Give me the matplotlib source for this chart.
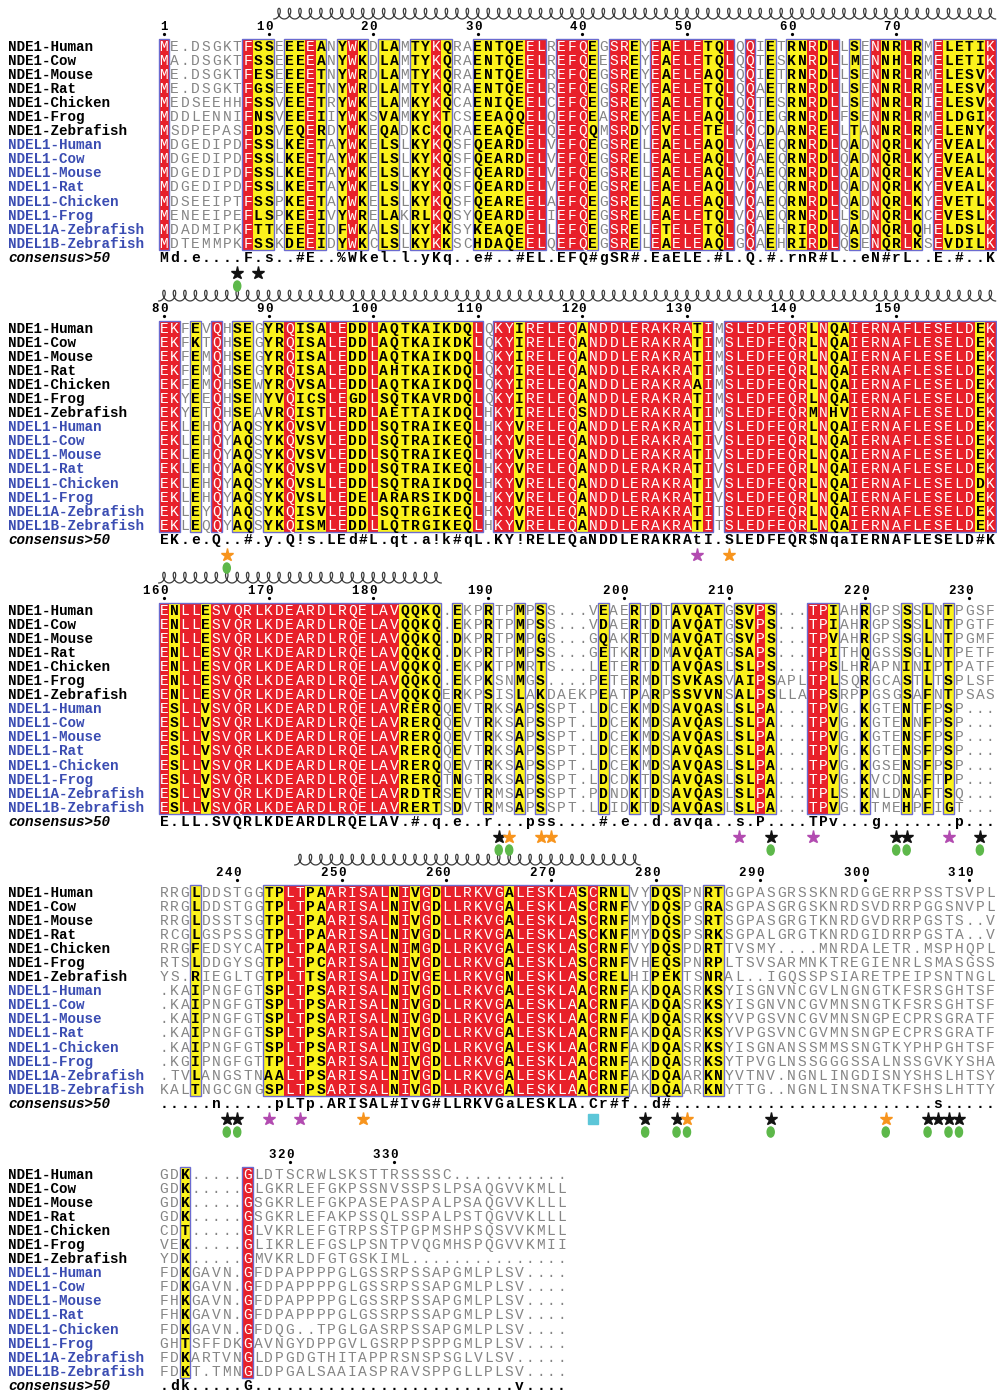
import numpy as np
import matplotlib.pyplot as plt
from matplotlib.patches import Rectangle, Ellipse

# sequence names (NDE1 orthologs first, then NDEL1)
names = ["NDE1-Human", "NDE1-Cow", "NDE1-Mouse", "NDE1-Rat", "NDE1-Chicken",
         "NDE1-Frog", "NDE1-Zebrafish", "NDEL1-Human", "NDEL1-Cow",
         "NDEL1-Mouse", "NDEL1-Rat", "NDEL1-Chicken", "NDEL1-Frog",
         "NDEL1A-Zebrafish", "NDEL1B-Zebrafish"]

# aligned sequences, one string per line of the alignment block (80 columns per block)
seqs = [
    ("ME.DSGKTFSSEEEEANYWKDLAMTYKQRAENTQEELREFQEGSREYEAELETQLQQIETRNRDLLSENNRLRMELETIK"
     "EKFEVQHSEGYRQISALEDDLAQTKAIKDQLQKYIRELEQANDDLERAKRATIMSLEDFEQRLNQAIERNAFLESELDEK"
     "ENLLESVQRLKDEARDLRQELAVQQKQ.EKPRTPMPSS...VEAERTDTAVQATGSVPS...TPIAHRGPSSSLNTPGSF"
     "RRGLDDSTGGTPLTPAARISALNIVGDLLRKVGALESKLASCRNLVYDQSPNRTGGPASGRSSKNRDGGERRPSSTSVPL"
     "GDK.....GLDTSCRWLSKSTTRSSSSC..........."),
    ("MA.DSGKTFSSEEEEANYWKDLAMTYKQRAENTQEELREFQEESREYEAELETQLQQTESKNRDLLMENNHLRMELETIK"
     "EKFKTQHSEGYRQISALEDDLAQTKAIKDKLQKYIRELEQANDDLERAKRATIMSLEDFEQRLNQAIERNAFLESELDEK"
     "ENLLESVQRLKDEARDLRQELAVQQKQ.EKPRTPMPSS...VDAERTDTAVQATGSVPS...TPIAHRGPSSSLNTPGTF"
     "RRGLDDSTGGTPLTPAARISALNIVGDLLRKVGALESKLASCRNFVYDQSPGRASGPASGRGSKNRDSVDRRPGGSNVPL"
     "GDK.....GLGKRLEFGKPSSNVSSPSLPSAQGVVKMLL"),
    ("ME.DSGKTFESEEEETNYWRDLAMTYKQRAENTQEELREFQEGSREYEAELEAQLQQIETRNRDLLSENNRLRMELESVK"
     "EKFEMQHSEGYRQISALEDDLAQTKAIKDQLQKYIRELEQANDDLERAKRATIMSLEDFEQRLNQAIERNAFLESELDEK"
     "ENLLESVQRLKDEARDLRQELAVQQKQ.DKPRTPMPGS...GQAKRTDMAVQATGSVPS...TPVAHRGPSSGLNTPGMF"
     "RRGLDSSTSGTPLTPAARISALNIVGDLLRKVGALESKLASCRNFMYDQSPSRTSGPASGRGTKNRDGVDRRPGSTS..V"
     "GDK.....GSGKRLEFGKPASEPASPALPSAQGVVKLLL"),
    ("ME.DSGKTFGSEEEETNYWRDLAMTYKQRAENTQEELREFQEGSREYEAELETQLQQAETRNRDLLSENNRLRMELESVK"
     "EKFEMQHSEGYRQISALEDDLAHTKAIKDQLQKYIRELEQANDDLERAKRATIMSLEDFEQRLNQAIERNAFLESELDEK"
     "ENLLESVQRLKDEARDLRQELAVQQKQ.DKPRTPMPSS...GETKRTDMAVQATGSAPS...TPITHQGSSSGLNTPETF"
     "RCGLGSPSSGTPLTPAARISALNIVGDLLRKVGALESKLASCKNFMYDQSPSRKSGPALGRGTKNRDGIDRRPGSTA..V"
     "GDK.....GSGKRLEFAKPSSQLSSPALPSTQGVVKLLL"),
    ("MEDSEEHHFSSVEEETRYWKELAMKYKQCAENIQEELCEFQEGSREYEAELETQLQQTESRNRDLLSENNRLRIELESVK"
     "EKFEMQHSEWYRQVSALEDDLAQTKAIKDQLQKYIRELEQANDDLERAKRAAIMSLEDFEQRLNQAIERNAFLESELDEK"
     "ENLLESVQRLKDEARDLRQELAVQQKQ.EKPKTPMRTS...LETERTDTAVQASLSLPS...TPSLHRAPNINIPTPATF"
     "RRGFEDSYCATPLTPAARISALNIMGDLLRKVGALESKLASCRNFVYDQSPDRTTVSMY....MNRDALETR.MSPHQPL"
     "CDT.....GLVKRLEFGTRPSSTPGPMSHPSQSVVKMLL"),
    ("MDDLENNIFNSVEEEIIYWKSVAMKYKTCSEEAQQELQEFQEASREYEAELEAQLQQIEGRNRDLFSENNRLRMELDGIK"
     "EKYEEQHSENYVQICSLEGDLSQTKAVRDQLQKYIRELEQANDDLERAKRATIMSLEDFEQRLNQAIERNAFLESELDEK"
     "ENLLESVQRLKDEARDLRQELAVQQKQ.EKPKSNMGS....PETERMDTSVKASVAIPSAPLTPLSQRGCASTLTSPLSF"
     "RTSLDDGYSGTPLTPCARISALNIVGDLLRKVGALESKLASCRNFVHEQSPNRPLTSVSARMNKTREGIENRLSMASGSS"
     "VEK.....GLIKRLEFGSLPSNTPVQGMHSPQGVVKMII"),
    ("MSDPEPASFDSVEQERDYWKEQADKCKQRAEEAQEELQEFQQMSRDYEVELETELKQCDARNRELLTANNRLRMELENYK"
     "EKYETQHSEAVRQISTLERDLAETTAIKDQLHKYIRELEQSNDDLERAKRATIMSLEDFEQRMNHVIERNAFLESELDEK"
     "ENLLESVQRLKDEARDLRQELAVQQKQERKPSISLAKDAEKPEATPARPSSVVNSALPSLLATPSRPPGSGSAFNTPSAS"
     "YS.RIEGLTGTPLTTSARISALDIVGELLRKVGNLESKLASCRELHIPEKTSNRAL..IGQSSPSIARETPEIPSNTNGL"
     "YDK.....GMVKRLDFGTGSKIML..............."),
    ("MDGEDIPDFSSLKEETAYWKELSLKYKQSFQEARDELVEFQEGSRELEAELEAQLVQAEQRNRDLQADNQRLKYEVEALK"
     "EKLEHQYAQSYKQVSVLEDDLSQTRAIKEQLHKYVRELEQANDDLERAKRATIVSLEDFEQRLNQAIERNAFLESELDEK"
     "ESLLVSVQRLKDEARDLRQELAVRERQQEVTRKSAPSSPT.LDCEKMDSAVQASLSLPA...TPVG.KGTENTFPSP..."
     ".KAIPNGFGTSPLTPSARISALNIVGDLLRKVGALESKLAACRNFAKDQASRKSYISGNVNCGVLNGNGTKFSRSGHTSF"
     "FDKGAVN.GFDPAPPPPGLGSSRPSSAPGMLPLSV...."),
    ("MDGEDIPDFSSLKEETAYWKELSLKYKQSFQEARDELVEFQEGSRELEAELEAQLVQAEQRNRDLQADNQRLKYEVEALK"
     "EKLEHQYAQSYKQVSVLEDDLSQTRAIKEQLHKYVRELEQANDDLERAKRATIVSLEDFEQRLNQAIERNAFLESELDEK"
     "ESLLVSVQRLKDEARDLRQELAVRERQQEVTRKSAPSSPT.LDCEKMDSAVQASLSLPA...TPVG.KGTENNFPSP..."
     ".KAIPNGFGTSPLTPSARISALNIVGDLLRKVGALESKLAACRNFAKDQASRKSYISGNVNCGVMNSNGTKFSRSGHTSF"
     "FDKGAVN.GFDPAPPPPGLGSSRPSSAPGMLPLSV...."),
    ("MDGEDIPDFSSLKEETAYWKELSLKYKQSFQEARDELVEFQEGSRELEAELEAQLVQAEQRNRDLQADNQRLKYEVEALK"
     "EKLEHQYAQSYKQVSVLEDDLSQTRAIKEQLHKYVRELEQANDDLERAKRATIVSLEDFEQRLNQAIERNAFLESELDEK"
     "ESLLVSVQRLKDEARDLRQELAVRERQQEVTRKSAPSSPT.LDCEKMDSAVQASLSLPA...TPVG.KGTENSFPSP..."
     ".KAIPNGFGTSPLTPSARISALNIVGDLLRKVGALESKLAACRNFAKDQASRKSYVPGSVNCGVMNSNGPECPRSGRATF"
     "FHKGAVN.GFDPAPPPPGLGSSRPSSAPGMLPLSV...."),
    ("MDGEDIPDFSSLKEETAYWKELSLKYKQSFQEARDELVEFQEGSRELEAELEAQLVQAEQRNRDLQADNQRLKYEVEALK"
     "EKLEHQYAQSYKQVSVLEDDLSQTRAIKEQLHKYVRELEQANDDLERAKRATIVSLEDFEQRLNQAIERNAFLESELDEK"
     "ESLLVSVQRLKDEARDLRQELAVRERQQEVTRKSAPSSPT.LDCEKMDSAVQASLSLPA...TPVG.KGTENSFPSP..."
     ".KAIPNGFGTSPLTPSARISALNIVGDLLRKVGALESKLAACRNFAKDQASRKSYVPGSVNCGVMNSNGPECPRSGRATF"
     "FHKGAVN.GFDPAPPPPGLGSSRPSSAPGMLPLSV...."),
    ("MDSEEIPTFSSPKEETAYWKELSLKYKQSFQEAREELAEFQEGSRELEAELEAQLVQAEQRNRDLQADNQRLKYEVETLK"
     "EKLEHQYAQSYKQVSLLEDDLSQTRAIKDQLHKYVRELEQANDDLERAKRATIVSLEDFEQRLNQAIERNAFLESELDDK"
     "ESLLVSVQRLKDEARDLRQELAVRERQQEVTRKSAPSSPT.LDCEKMDSAVQASLSLPA...TPVG.KGSENSFPSP..."
     ".KAIPNGFGTSPLTPSARISALNIVGDLLRKVGALESKLAACRNFAKDQASRKSYISGNANSSMMSSNGTKYPHPGHTSF"
     "FDKGAVN.GFDQG..TPGLGASRPSSAPGMLPLSV...."),
    ("MENEEIPEFLSPKEEIVYWRELAKRLKQSYQEARDELIEFQEGSRELEAELETQLVQAEQRNRDLLSDNQRLKCEVESLK"
     "EKLEHQYAQSYKQVSLLEDELARARSIKDQLHKYVRELEQANDDLERAKRATIVSLEDFEQRLNQAIERNAFLESELDEK"
     "ESLLVSVQRLKDEARDLRQELAVRERQTNGTRKSAPSSPT.LDCDKTDSAVQASLSLPA...TPVG.KVCDNSFTPP..."
     ".KGIPNGFGTTPLTPSARISALNIVGDLLRKVGALESKLAACRNFAKDQASRKSYTPVGLNSSGGGSSALNSSGVKYSHA"
     "GHTSFFDKGAVNGYDPPGVLGSRPPSPPGMLPLSV...."),
    ("MDADMIPKFTTKEEEIDFWKALSLKYKKSYKEAQEELLEFQEGSRELETELETQLGQAEHRIRDLQADNQRLQHELDSLK"
     "EKLEYQYAQSYKQISVLEDDLSQTRGIKEQLHKYVRELEQANDDLERAKRATITSLEDFEQRLNQAIERNAFLESELDEK"
     "ESLLVSVQRLKDEARDLRQELAVRDTRSEVTRMSAPSSPT.PDNDKTDSAVQASLSLPA...TPLS.KNLDNAFTSQ..."
     ".TVLANGSTNAALTPSARISALNIVGDLLRKVGALESKLAACRNFAKDQAARKNYVTNV.NGNLINGDISNYSHSLHTSY"
     "FDKARTVNGLDPGDGTHITAPPRSNSPSGLVLSV....."),
    ("MDTEMMPKFSSKDEEIDYWKCLSLKYKKSCHDAQEELQEFQEGSRELEAELEAQLGQAEHRIRDLQSENQRLKSEVDILK"
     "EKLEQQYAQSYKQISMLEDDLLQTRGIKEQLHKYVRELEQANDDLERAKRATITSLEDFEQRLNQAIERNAFLESELDEK"
     "ESLLVSVQRLKDEARDLRQELAVRERTSDVTRMSAPSSPT.LDIDKTDSAVQASLSLPA...TPVG.KTMEHPFIGT..."
     "KALTNGCGNGSPLTPSARISALNIVGDLLRKVGALESKLAACRNFAKDQAARKNYTTG..NGNLINSNATKFSHSLHTTY"
     "FDKT.TMNGLDPGALSAAIASPRAVSPPGLLPLSV...."),
]

consensus = ("Md.e....F.s..#E..%Wkel.l.yKq..e#..#EL.EFQ#gSR#.EaELE.#L.Q.#.rnR#L..eN#rL..E.#..K"
             "EK.e.Q..#.y.Q!s.LEd#L.qt.a!k#qL.KY!RELEQaNDDLERAKRAtI.SLEDFEQR$NqaIERNAFLESELD#K"
             "E.LL.SVQRLKDEARDLRQELAV.#.q.e..r...pss....#.e..d.avqa..s.P....TPv...g.......p..."
             ".....n.....pLTp.ARISAL#IvG#LLRKVGaLESKLA.Cr#f..d#.........................s....."
             ".dk.....G.........................v....")

# similarity boxes per block (first, last column, 1-based within block)
boxes = [
    [(1, 1), (9, 11), (13, 16), (18, 20), (22, 23), (25, 28), (31, 37), (39, 42),
     (44, 46), (48, 55), (57, 57), (59, 59), (61, 65), (67, 67), (69, 73), (75, 80)],
    [(1, 2), (4, 4), (6, 6), (8, 9), (11, 31), (33, 53), (55, 80)],
    [(1, 27), (29, 29), (32, 32), (35, 35), (37, 37), (43, 43), (46, 46), (48, 48),
     (50, 54), (56, 59), (63, 65), (68, 68), (72, 72), (74, 74), (76, 76)],
    [(4, 4), (11, 45), (48, 50), (53, 54)],
    [(3, 3), (9, 9)],
]

# alpha helices drawn above each block (first, last column)
helices = [(12, 80), (1, 80), (1, 27), (14, 46), None]

# site annotations under the consensus line (columns within block)
black_stars = [[8, 10], [], [33, 59, 71, 72, 79], [7, 8, 47, 50, 59, 74, 75, 76, 77], []]
orange_stars = [[], [7, 55], [34, 37, 38], [20, 51, 70], []]
magenta_stars = [[], [52], [56, 63, 76], [11, 14], []]
green_dots = [[8], [7], [33, 34, 59, 71, 72, 79], [7, 8, 47, 50, 51, 59, 70, 74, 76, 77], []]
cyan_squares = [[], [], [], [42], []]

RED = "#e8202a"
YELLOW = "#fbf21c"
FRAME = "#6b6bd0"
GRAY = "#858585"
BLUE = "#3a4cb2"
MONO = "Liberation Mono"

BLOCK = 80
n_rows = len(seqs)
aln_len = len(seqs[0])
n_blocks = (aln_len + BLOCK - 1) // BLOCK

# residue numbering follows the first sequence
resnum = []
count = 0
for ch in seqs[0]:
    if ch != ".":
        count += 1
        resnum.append(count)
    else:
        resnum.append(None)

fig = plt.figure(figsize=(9.97, 13.92), dpi=100)
ax = fig.add_axes([0, 0, 1, 1])
# x: one unit per alignment column, y: one unit per sequence line
col_px, row_px = 10.46, 14.07
x_first, y_first = 164, 46
ax.set_xlim(1 - x_first / col_px, 1 + (997 - x_first) / col_px)
ax.set_ylim((1392 - y_first) / row_px, -y_first / row_px)
ax.axis("off")
block_step = 282 / row_px
name_x = 1 - (x_first - 8) / col_px
base = 0.34  # baseline offset below row centre

for b in range(n_blocks):
    start = b * BLOCK
    width = min(BLOCK, aln_len - start)
    y0 = b * block_step
    framed = set()
    for c0, c1 in boxes[b]:
        framed.update(range(c0, c1 + 1))

    # column classes: identical -> red, similar -> yellow
    kinds = []
    for c in range(1, width + 1):
        column = [s[start + c - 1] for s in seqs]
        if c in framed and len(set(column)) == 1 and column[0] != ".":
            kinds.append("R")
        elif c in framed:
            kinds.append("Y")
        else:
            kinds.append("-")

    c = 1
    while c <= width:
        k = kinds[c - 1]
        e = c
        while e < width and kinds[e] == k:
            e += 1
        if k != "-":
            ax.add_patch(Rectangle((c - 0.5, y0 - 0.5), e - c + 1, n_rows,
                                   facecolor=RED if k == "R" else YELLOW,
                                   edgecolor="none", zorder=1))
        c = e + 1

    for c0, c1 in boxes[b]:
        ax.add_patch(Rectangle((c0 - 0.5, y0 - 0.5), c1 - c0 + 1, n_rows,
                               fill=False, edgecolor=FRAME, lw=1.0, zorder=3))

    # residues
    for r, s in enumerate(seqs):
        ax.text(name_x, y0 + r + base, names[r], ha="left", va="baseline",
                family=MONO, fontsize=10.3, fontweight="bold",
                color="black" if r < 7 else BLUE)
        for c in range(1, width + 1):
            ch = s[start + c - 1]
            k = kinds[c - 1]
            if k == "R":
                style = dict(color="white", fontweight="normal")
            elif k == "Y":
                style = dict(color="black", fontweight="bold")
            else:
                style = dict(color=GRAY, fontweight="normal")
            ax.text(c, y0 + r + base, ch, ha="center", va="baseline",
                    family=MONO, fontsize=10.5, zorder=4, **style)

    # consensus line
    yc = y0 + n_rows
    ax.text(name_x, yc + base, "consensus>50", ha="left", va="baseline",
            family=MONO, fontsize=10.3, fontstyle="italic", fontweight="bold")
    for c in range(1, width + 1):
        ax.text(c, yc + base, consensus[start + c - 1], ha="center", va="baseline",
                family=MONO, fontsize=10.5, fontweight="bold")

    # residue numbers above the block
    for c in range(1, width + 1):
        n = resnum[start + c - 1]
        if n is not None and (n == 1 or n % 10 == 0):
            label = str(n)
            for i, d in enumerate(label):
                ax.text(c - (len(label) - 1 - i) * 0.85, y0 - 1.35, d,
                        ha="center", va="center", family=MONO, fontsize=9,
                        fontweight="bold")
            ax.plot(c, y0 - 0.88, marker="o", ms=1.3, color="black")

    # helix
    if helices[b] is not None:
        h0, h1 = helices[b]
        t = np.linspace(-np.pi, 2 * np.pi * (h1 - h0 + 1) - np.pi, 60 * (h1 - h0 + 1))
        hx = h0 + t / (2 * np.pi) - 0.33 * np.sin(t)
        hy = y0 - 2.3 - 0.38 * np.cos(t)
        ax.plot(hx, hy, color="#3c3c3c", lw=0.9)

    # annotations
    ys = yc + 1.12
    for cols, colr in ((black_stars[b], "#111111"), (orange_stars[b], "#f7941d"),
                       (magenta_stars[b], "#b24bb0")):
        if cols:
            ax.plot(cols, [ys] * len(cols), linestyle="none", marker="*", ms=9.5,
                    color=colr, zorder=5)
    if cyan_squares[b]:
        ax.plot(cyan_squares[b], [ys] * len(cyan_squares[b]), linestyle="none",
                marker="s", ms=7, color="#5cc6d8")
    for c in green_dots[b]:
        ax.add_patch(Ellipse((c, yc + 2.06), 0.68, 0.72, color="#5db84a", zorder=5))

fig.savefig("out.png", dpi=100)
